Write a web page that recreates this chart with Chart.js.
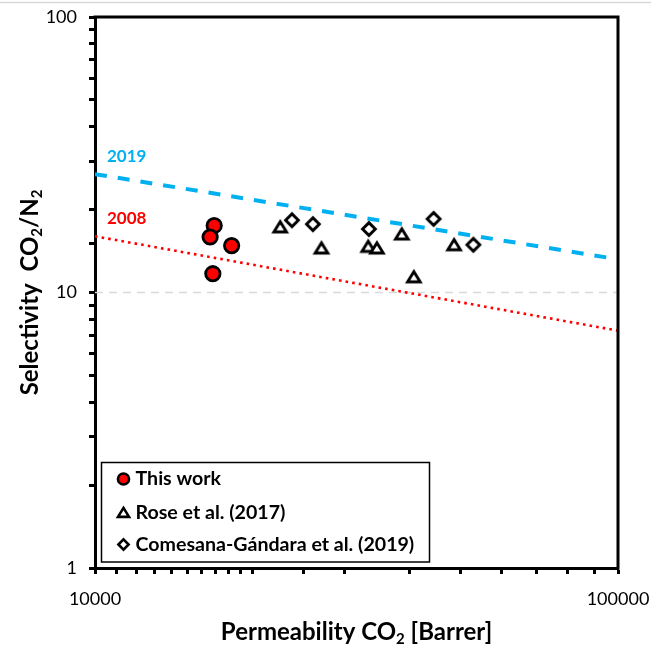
<!DOCTYPE html>
<html><head><meta charset="utf-8">
<script src="https://cdn.jsdelivr.net/npm/chart.js@4"></script>
<style>html,body{margin:0;padding:0;background:#fff;}#wrap{width:651px;height:648px;position:relative;}</style>
</head><body><div id="wrap"><canvas id="c" width="651" height="648"></canvas></div>
<script>
// ---- data ----
const thisWorkX = [16900, 16600, 18250, 16800];
const thisWorkY = [17.5, 15.9, 14.8, 11.7];
const roseX = [22600, 27100, 33300, 34600, 38600, 40700, 48600];
const roseY = [17.3, 14.5, 14.7, 14.5, 16.3, 11.4, 14.9];
const comesanaX = [23800, 26100, 33400, 44400, 52900];
const comesanaY = [18.3, 17.7, 17.0, 18.5, 14.9];
const bound2008X = [10000, 100000];
const bound2008Y = [16.0, 7.27];
const bound2019X = [10000, 100000];
const bound2019Y = [26.9, 13.2];
const seriesNames = ['This work', 'Rose et al. (2017)', 'Comesana-Gándara et al. (2019)'];
const boundLabels = ['2019', '2008'];
const xTickLabels = ['10000', '100000'];
const yTickLabels = ['1', '10', '100'];

const FONT = 'Lato, "Open Sans", sans-serif';
const toPts = (xs, ys) => xs.map((x, i) => ({x: x, y: ys[i]}));

function triPath(ctx, cx, cy, s) {
  ctx.beginPath();
  ctx.moveTo(cx, cy - 5.2 * s);
  ctx.lineTo(cx + 6.3 * s, cy + 5 * s);
  ctx.lineTo(cx - 6.3 * s, cy + 5 * s);
  ctx.closePath();
}
function diaPath(ctx, cx, cy, s) {
  ctx.beginPath();
  ctx.moveTo(cx, cy - 6.4 * s);
  ctx.lineTo(cx + 6.4 * s, cy);
  ctx.lineTo(cx, cy + 6.4 * s);
  ctx.lineTo(cx - 6.4 * s, cy);
  ctx.closePath();
}
function makeMarker(pathFn) {
  const c = document.createElement('canvas');
  c.width = 24; c.height = 24;
  const g = c.getContext('2d');
  g.lineJoin = 'miter';
  g.lineWidth = 2.9;
  g.fillStyle = '#fff';
  g.strokeStyle = '#000';
  pathFn(g, 12, 12, 1);
  g.fill(); g.stroke();
  return c;
}
const triImg = makeMarker(triPath);
const diaImg = makeMarker(diaPath);

function drawRich(ctx, parts, x, y, size) {
  const main = 'bold ' + size + 'px ' + FONT;
  const sub = 'bold ' + Math.round(size * 0.62) + 'px ' + FONT;
  let total = 0;
  parts.forEach(p => { ctx.font = p[1] ? sub : main; total += ctx.measureText(p[0]).width; });
  let cx = x - total / 2;
  ctx.textAlign = 'left';
  ctx.textBaseline = 'middle';
  parts.forEach(p => {
    ctx.font = p[1] ? sub : main;
    ctx.fillText(p[0], cx, p[1] ? y + size * 0.3 : y);
    cx += ctx.measureText(p[0]).width;
  });
}

const isPow10 = v => Math.abs(Math.log10(v) - Math.round(Math.log10(v))) < 1e-9;

const decor = {
  id: 'decor',
  beforeDraw(chart) {
    const ctx = chart.ctx;
    ctx.save();
    ctx.fillStyle = '#fff';
    ctx.fillRect(0, 0, chart.width, chart.height);
    ctx.strokeStyle = '#d9d9d9';
    ctx.lineWidth = 1.5;
    ctx.beginPath(); ctx.moveTo(0, 2.5); ctx.lineTo(chart.width, 2.5); ctx.stroke();
    ctx.restore();
  },
  beforeDatasetsDraw(chart) {
    const ctx = chart.ctx, a = chart.chartArea, ys = chart.scales.y;
    const y = ys.getPixelForValue(10);
    ctx.save();
    ctx.strokeStyle = '#d9d9d9';
    ctx.lineWidth = 1.5;
    ctx.setLineDash([8, 6]);
    ctx.beginPath(); ctx.moveTo(a.left, y); ctx.lineTo(a.right, y); ctx.stroke();
    ctx.restore();
  },
  afterDraw(chart) {
    const ctx = chart.ctx, a = chart.chartArea, ys = chart.scales.y;
    ctx.save();
    ctx.strokeStyle = '#000';
    ctx.lineWidth = 3;
    ctx.beginPath();
    ctx.moveTo(a.left - 1.5, a.top); ctx.lineTo(a.right, a.top); ctx.lineTo(a.right, a.bottom + 1.5);
    ctx.stroke();
    ctx.font = 'bold 17px ' + FONT;
    ctx.textAlign = 'left';
    ctx.textBaseline = 'middle';
    ctx.fillStyle = '#00b0f0';
    ctx.fillText(boundLabels[0], a.left + 12, ys.getPixelForValue(bound2019Y[0]) - 18);
    ctx.fillStyle = '#ff0000';
    ctx.fillText(boundLabels[1], a.left + 12, ys.getPixelForValue(bound2008Y[0]) - 18);
    ctx.fillStyle = '#000';
    drawRich(ctx, [['Permeability CO', 0], ['2', 1], [' [Barrer]', 0]], (a.left + a.right) / 2, 632, 24);
    ctx.save();
    ctx.translate(30, (a.top + a.bottom) / 2);
    ctx.rotate(-Math.PI / 2);
    drawRich(ctx, [['Selectivity  CO', 0], ['2', 1], ['/N', 0], ['2', 1]], 0, 0, 24);
    ctx.restore();
    const lx = a.left + 6.5, ly = 462.5, lw = 328, lh = 99.5;
    ctx.fillStyle = '#fff';
    ctx.fillRect(lx, ly, lw, lh);
    ctx.strokeStyle = '#000';
    ctx.lineWidth = 1.5;
    ctx.strokeRect(lx, ly, lw, lh);
    const rows = [479, 512.5, 544.5];
    const mx = lx + 22;
    ctx.beginPath(); ctx.arc(mx, rows[0], 5.6, 0, Math.PI * 2);
    ctx.fillStyle = '#ff0000'; ctx.fill();
    ctx.lineWidth = 2.5; ctx.strokeStyle = '#000'; ctx.stroke();
    ctx.lineJoin = 'miter';
    triPath(ctx, mx, rows[1], 0.88); ctx.fillStyle = '#fff'; ctx.fill(); ctx.lineWidth = 2.6; ctx.stroke();
    diaPath(ctx, mx, rows[2], 0.8); ctx.fill(); ctx.stroke();
    ctx.fillStyle = '#000';
    ctx.font = 'bold 19.6px ' + FONT;
    ctx.textAlign = 'left';
    ctx.textBaseline = 'middle';
    seriesNames.forEach((n, i) => ctx.fillText(n, lx + 34, rows[i]));
    ctx.restore();
  }
};

new Chart(document.getElementById('c'), {
  type: 'scatter',
  data: {
    datasets: [
      {label: seriesNames[0], data: toPts(thisWorkX, thisWorkY), pointStyle: 'circle', pointRadius: 7.2,
       backgroundColor: '#ff0000', borderColor: '#000', borderWidth: 2.8, order: 0},
      {label: seriesNames[1], data: toPts(roseX, roseY), pointStyle: triImg, pointRadius: 8, order: 0},
      {label: seriesNames[2], data: toPts(comesanaX, comesanaY), pointStyle: diaImg, pointRadius: 8, order: 0},
      {label: '2019 bound', data: toPts(bound2019X, bound2019Y), showLine: true, pointRadius: 0,
       borderColor: '#00b0f0', borderWidth: 4, borderDash: [12, 11], fill: false, order: 5},
      {label: '2008 bound', data: toPts(bound2008X, bound2008Y), showLine: true, pointRadius: 0,
       borderColor: '#ff0000', borderWidth: 2.6, borderDash: [2.6, 4.1], fill: false, order: 5}
    ]
  },
  options: {
    responsive: false,
    animation: false,
    events: [],
    layout: {padding: {top: 17, right: 33, left: 0, bottom: 0}},
    plugins: {legend: {display: false}, tooltip: {enabled: false}, title: {display: false}},
    scales: {
      x: {
        type: 'logarithmic', position: 'bottom', min: 10000, max: 100000,
        afterFit(s) { s.height = 80; s.paddingLeft = 0; s.paddingRight = 0; },
        ticks: {autoSkip: false, maxRotation: 0, padding: 14, color: '#000',
          font: {family: FONT, size: 18},
          callback(v) { return isPow10(v) && xTickLabels.includes(String(v)) ? String(v) : ''; }},
        grid: {drawOnChartArea: false, drawTicks: true, tickLength: 6, tickWidth: 3, tickColor: '#000'},
        border: {display: true, width: 3, color: '#000'}
      },
      y: {
        type: 'logarithmic', position: 'left', min: 1, max: 100,
        afterFit(s) { s.width = 95; s.paddingTop = 0; s.paddingBottom = 0; },
        ticks: {autoSkip: false, padding: 12, color: '#000',
          font: {family: FONT, size: 18},
          callback(v) { return isPow10(v) && yTickLabels.includes(String(v)) ? String(v) : ''; }},
        grid: {drawOnChartArea: false, drawTicks: true, tickLength: 6, tickWidth: 3, tickColor: '#000'},
        border: {display: true, width: 3, color: '#000'}
      }
    }
  },
  plugins: [decor]
});
</script></body></html>
